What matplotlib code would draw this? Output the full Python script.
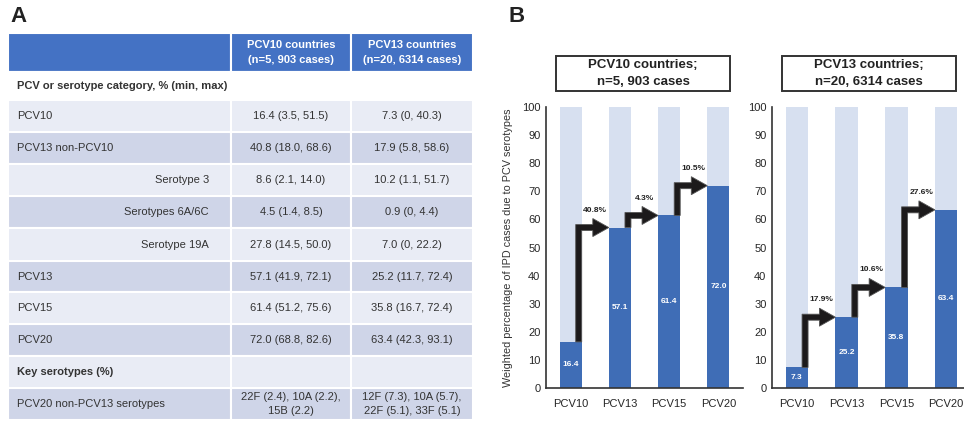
import matplotlib.pyplot as plt
from matplotlib.patches import Rectangle, Polygon

plt.rcParams['font.family'] = ['Liberation Sans', 'DejaVu Sans']

# Table values (panel A)
col_heads = ["PCV10 countries\n(n=5, 903 cases)", "PCV13 countries\n(n=20, 6314 cases)"]
row_labels = ["PCV or serotype category, % (min, max)", "PCV10", "PCV13 non-PCV10",
              "Serotype 3", "Serotypes 6A/6C", "Serotype 19A", "PCV13", "PCV15", "PCV20",
              "Key serotypes (%)", "PCV20 non-PCV13 serotypes"]
pcv10_col = [None, "16.4 (3.5, 51.5)", "40.8 (18.0, 68.6)", "8.6 (2.1, 14.0)",
             "4.5 (1.4, 8.5)", "27.8 (14.5, 50.0)", "57.1 (41.9, 72.1)",
             "61.4 (51.2, 75.6)", "72.0 (68.8, 82.6)", "", "22F (2.4), 10A (2.2),\n15B (2.2)"]
pcv13_col = [None, "7.3 (0, 40.3)", "17.9 (5.8, 58.6)", "10.2 (1.1, 51.7)",
             "0.9 (0, 4.4)", "7.0 (0, 22.2)", "25.2 (11.7, 72.4)",
             "35.8 (16.7, 72.4)", "63.4 (42.3, 93.1)", "", "12F (7.3), 10A (5.7),\n22F (5.1), 33F (5.1)"]
bold_rows = [0, 9]
indented_rows = [3, 4, 5]

# Bar values (panel B)
vaccines = ["PCV10", "PCV13", "PCV15", "PCV20"]
pcv10_countries = [16.4, 57.1, 61.4, 72.0]
pcv10_steps = ["40.8%", "4.3%", "10.5%"]
pcv13_countries = [7.3, 25.2, 35.8, 63.4]
pcv13_steps = ["17.9%", "10.6%", "27.6%"]

W, H = 964, 424
fig = plt.figure(figsize=(W / 100, H / 100), dpi=100)

header_blue = '#4472c4'
bar_blue = '#3f6db6'
bar_bg = '#d7e0f0'
row_light = '#e9ecf5'
row_dark = '#cfd5e8'
txt = '#333333'

# ---- panel A: table drawn in pixel coordinates
ax_t = fig.add_axes([0, 0, 482 / W, 1])
ax_t.set_xlim(0, 482)
ax_t.set_ylim(H, 0)
ax_t.axis('off')

x_cols = [8, 231, 351, 473]
y_rows = [33, 72, 100, 132, 164, 196, 228, 261, 292, 324, 356, 388, 420]

# header
for c in range(3):
    ax_t.add_patch(Rectangle((x_cols[c], y_rows[0]), x_cols[c + 1] - x_cols[c],
                             y_rows[1] - y_rows[0], fc=header_blue, ec='white', lw=1.5))
for c, head in enumerate(col_heads):
    ax_t.text((x_cols[c + 1] + x_cols[c + 2]) / 2, (y_rows[0] + y_rows[1]) / 2, head,
              ha='center', va='center', color='white', fontsize=8, fontweight='bold',
              linespacing=1.6)

for r, label in enumerate(row_labels):
    y0, y1 = y_rows[r + 1], y_rows[r + 2]
    yc = (y0 + y1) / 2
    if r == 0:
        ax_t.add_patch(Rectangle((x_cols[0], y0), x_cols[3] - x_cols[0], y1 - y0,
                                 fc='white', ec='white', lw=1.5))
    else:
        fc = row_light if r % 2 == 1 else row_dark
        for c in range(3):
            ax_t.add_patch(Rectangle((x_cols[c], y0), x_cols[c + 1] - x_cols[c], y1 - y0,
                                     fc=fc, ec='white', lw=1.5))
    weight = 'bold' if r in bold_rows else 'normal'
    if r in indented_rows:
        ax_t.text(209, yc, label, ha='right', va='center', fontsize=8, color=txt)
    else:
        ax_t.text(17, yc, label, ha='left', va='center', fontsize=8, color=txt,
                  fontweight=weight)
    for c, col in enumerate([pcv10_col, pcv13_col]):
        if col[r]:
            ax_t.text((x_cols[c + 1] + x_cols[c + 2]) / 2, yc, col[r], ha='center',
                      va='center', fontsize=8, color=txt, linespacing=1.45)

fig.text(10 / W, 1 - 22 / H, 'A', fontsize=16, fontweight='bold', va='baseline', color='#222')
fig.text(508 / W, 1 - 22 / H, 'B', fontsize=16, fontweight='bold', va='baseline', color='#222')


# ---- panel B: stepped bar charts
def step_chart(ax, values, steps, xmax):
    x = range(len(values))
    w = 0.45
    ax.bar(x, [100] * len(values), width=w, color=bar_bg, zorder=1)
    ax.bar(x, values, width=w, color=bar_blue, zorder=2)
    ax.set_xlim(-0.5, xmax)
    ax.set_ylim(0, 100)
    ax.set_yticks(range(0, 101, 10))
    ax.set_xticks(list(x))
    ax.set_xticklabels(vaccines)
    ax.tick_params(length=0, labelsize=8, colors='#262626')
    ax.tick_params(axis='x', pad=8)
    ax.tick_params(axis='y', pad=4)
    for s in ['top', 'right']:
        ax.spines[s].set_visible(False)
    for s in ['left', 'bottom']:
        ax.spines[s].set_color('#333333')
        ax.spines[s].set_linewidth(1.2)
    for i, v in enumerate(values):
        ax.text(i, v / 2, f"{v:.1f}", ha='center', va='center', color='white',
                fontsize=6, fontweight='bold', zorder=4)

    # pixel sizes of the elbow arrows converted to data units
    pos = ax.get_position()
    px_x = pos.width * W / (xmax + 0.5)
    px_y = pos.height * H / 100
    stem = 6 / px_x
    shaft = 6 / px_y
    head_len = 16 / px_x
    head_half = 9 / px_y
    for i, lab in enumerate(steps):
        v0, v1 = values[i], values[i + 1]
        xs = i + w / 2
        xl = xs - stem
        xe = i + 1 - w / 2
        xh = xe - head_len
        pts = [(xl, v0), (xs, v0), (xs, v1 - shaft / 2), (xh, v1 - shaft / 2),
               (xh, v1 - head_half), (xe, v1), (xh, v1 + head_half),
               (xh, v1 + shaft / 2), (xl, v1 + shaft / 2)]
        ax.add_patch(Polygon(pts, closed=True, fc='#1c1a1b', ec='#555555', lw=0.6,
                             zorder=3, clip_on=False))
        ax.text((xs + xe) / 2, v1 + 6.2, lab, ha='center', va='center', fontsize=6,
                fontweight='bold', color='#222222', zorder=4)


ax1 = fig.add_axes([546 / W, 1 - 388 / H, 197 / W, 281 / H])
step_chart(ax1, pcv10_countries, pcv10_steps, 3.5)
ax1.set_ylabel("Weighted percentage of IPD cases due to PCV serotypes", fontsize=7.8,
               color='#333333')
ax1.yaxis.set_label_coords(-0.17, 0.5)

ax2 = fig.add_axes([772 / W, 1 - 388 / H, 192 / W, 281 / H])
step_chart(ax2, pcv13_countries, pcv13_steps, 3.36)

# boxed panel titles
for (x0, x1), title in [((556, 730), "PCV10 countries;\nn=5, 903 cases"),
                        ((782, 956), "PCV13 countries;\nn=20, 6314 cases")]:
    fig.patches.append(Rectangle((x0 / W, 1 - 91 / H), (x1 - x0) / W, 35 / H,
                                 transform=fig.transFigure, fc='white', ec='#333333',
                                 lw=1.4))
    fig.text((x0 + x1) / 2 / W, 1 - 73.5 / H, title, ha='center', va='center',
             fontsize=9.5, fontweight='bold', color='#222222', linespacing=1.45)

fig.savefig('out.png', dpi=100)
